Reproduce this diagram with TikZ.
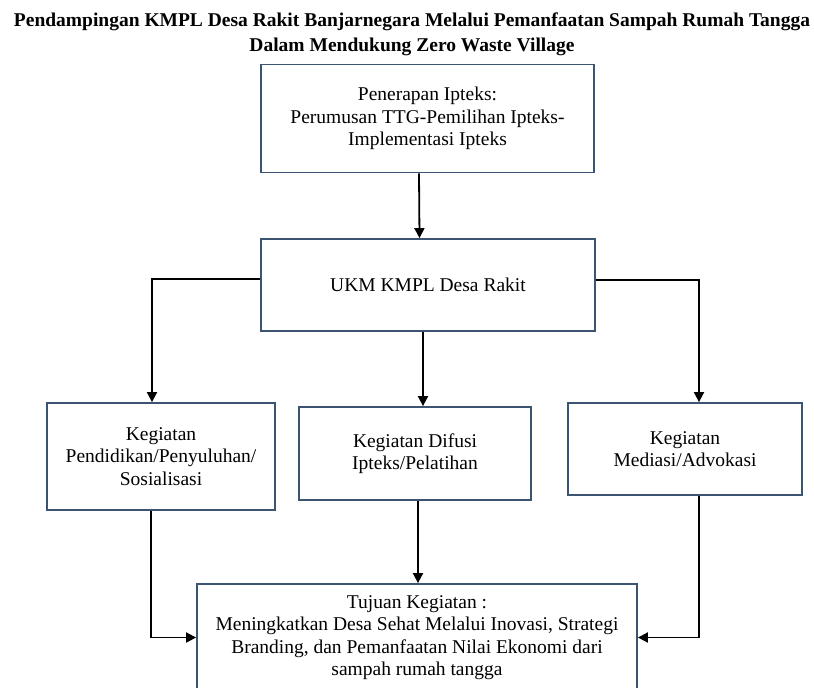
\documentclass[tikz,border=0pt]{standalone}
\usepackage{fontspec}
\setmainfont{Liberation Serif}
\usetikzlibrary{arrows.meta}
\definecolor{boxline}{RGB}{58,84,114}
\tikzset{
  box/.style={draw=boxline, line width=1.8pt, rectangle, inner sep=0pt, align=center,
    font=\fontsize{19.5}{22.5}\selectfont, text=black},
  arr/.style={draw=black, line width=1.8pt, -{Triangle[length=10pt,width=10pt]}},
  ttl/.style={anchor=base, inner sep=0pt, font=\fontsize{19.5}{25}\selectfont\bfseries}
}
\begin{document}
\begin{tikzpicture}[x=1pt,y=-1pt]
\clip (0,0) rectangle (814,688);
\fill[white] (0,0) rectangle (814,688);
\node[ttl] (t1) at (412,26) {Pendampingan KMPL Desa Rakit Banjarnegara Melalui Pemanfaatan Sampah Rumah Tangga};
\node[ttl] (t2) at (412,51) {Dalam Mendukung Zero Waste Village};

\node[box, minimum width=333pt, minimum height=108pt] (pen) at (427.5,118.5)
  {Penerapan Ipteks:\\Perumusan TTG-Pemilihan Ipteks-\\Implementasi Ipteks};
\node[box, minimum width=334pt, minimum height=92pt] (ukm) at (428,285)
  {UKM KMPL Desa Rakit};
\node[box, minimum width=228pt, minimum height=107pt] (pend) at (161,456.5)
  {Kegiatan\\Pendidikan/Penyuluhan/\\Sosialisasi};
\node[box, minimum width=232pt, minimum height=93pt] (dif) at (415,453.5)
  {Kegiatan Difusi\\Ipteks/Pelatihan};
\node[box, minimum width=234pt, minimum height=92pt] (med) at (685,449)
  {Kegiatan\\Mediasi/Advokasi};
\node[box, minimum width=440pt, minimum height=107pt] (tuj) at (417,637.5)
  {Tujuan Kegiatan :\\Meningkatkan Desa Sehat Melalui Inovasi, Strategi\\Branding, dan Pemanfaatan Nilai Ekonomi dari\\sampah rumah tangga};

\draw[arr] ([xshift=-8.5pt]pen.south) -- ([xshift=-8.5pt]ukm.north);
\draw[arr] ([yshift=6pt]ukm.west) -| ([xshift=-9pt]pend.north);
\draw[arr] ([yshift=5pt]ukm.east) -| ([xshift=14pt]med.north);
\draw[arr] ([xshift=-5pt]ukm.south) -- ([xshift=-5pt]ukm.south |- dif.north);
\draw[arr] ([xshift=-10pt]pend.south) |- (tuj.west);
\draw[arr] ([xshift=3pt]dif.south) -- ([xshift=3pt]dif.south |- tuj.north);
\draw[arr] ([xshift=14pt]med.south) |- (tuj.east);
\end{tikzpicture}
\end{document}
